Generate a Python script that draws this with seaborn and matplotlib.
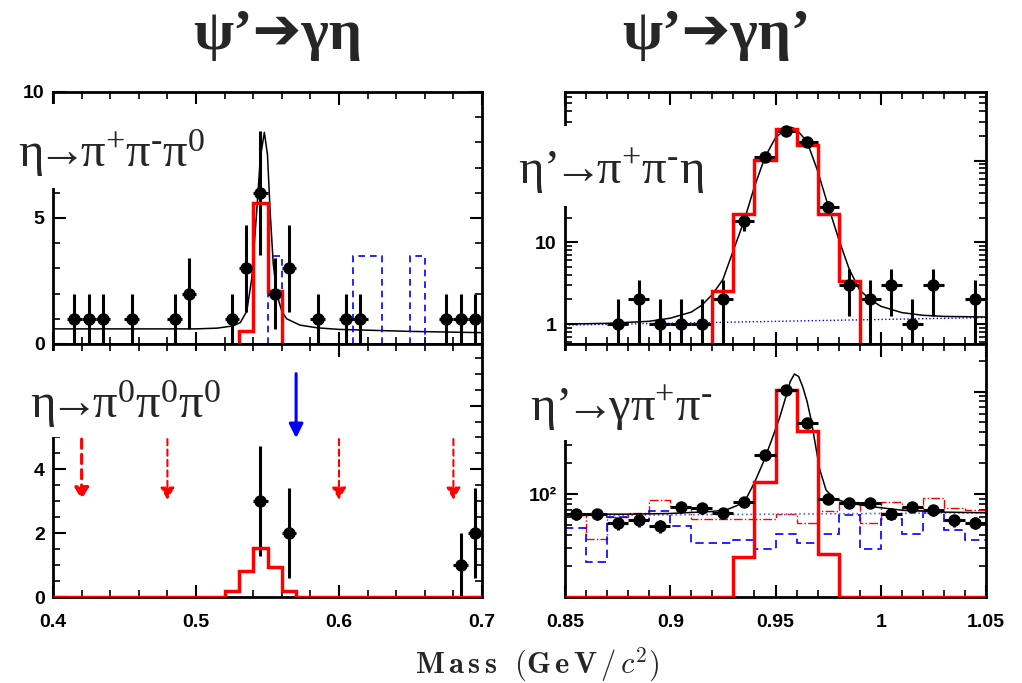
import matplotlib
matplotlib.use('Agg')
import matplotlib.pyplot as plt
from matplotlib.patches import Rectangle
from matplotlib.ticker import MultipleLocator, LogLocator, NullFormatter, FixedLocator
import seaborn as sns

# ---------------- data ----------------
# top-left: eta -> pi+ pi- pi0
tl_x = [0.415, 0.425, 0.435, 0.455, 0.485, 0.495, 0.525, 0.535, 0.545, 0.555, 0.565,
        0.585, 0.605, 0.615, 0.675, 0.685, 0.695]
tl_y = [1, 1, 1, 1, 1, 2, 1, 3, 6, 2, 3, 1, 1, 1, 1, 1, 1]
tl_err = [1, 1, 1, 1, 1, 1.41, 1, 1.73, 2.45, 1.41, 1.73, 1, 1, 1, 1, 1, 1]
tl_sig_edges = [0.53, 0.54, 0.55, 0.56]
tl_sig = [0.5, 5.6, 2.1]
tl_bkg_edges = [[0.55, 0.56], [0.61, 0.63], [0.65, 0.66]]
tl_bkg = [3.5, 3.5, 3.5]
tl_fit_x = [0.40, 0.45, 0.50, 0.515, 0.526, 0.531, 0.5355, 0.539, 0.5425, 0.545, 0.5478,
            0.550, 0.5518, 0.554, 0.5564, 0.560, 0.5634, 0.5727, 0.585, 0.60, 0.65, 0.70]
tl_fit_y = [0.6, 0.6, 0.6, 0.63, 0.72, 0.85, 1.3, 2.6, 5.3, 7.4, 8.4,
            7.5, 5.3, 3.2, 2.0, 1.3, 1.0, 0.75, 0.64, 0.58, 0.5, 0.45]

# bottom-left: eta -> pi0 pi0 pi0
bl_x = [0.545, 0.565, 0.685, 0.695]
bl_y = [3, 2, 1, 2]
bl_err = [1.73, 1.41, 1, 1.41]
bl_sig_edges = [0.40, 0.52, 0.53, 0.54, 0.55, 0.56, 0.57, 0.70]
bl_sig = [0, 0.2, 0.8, 1.55, 0.95, 0.18, 0]
bl_limit_x = [0.42, 0.48, 0.60, 0.68]
bl_limit_from, bl_limit_to = 4.95, 3.05
bl_blue_x, bl_blue_from, bl_blue_to = 0.57, 7.0, 4.98

# top-right: eta' -> pi+ pi- eta
tr_x = [0.875, 0.885, 0.895, 0.905, 0.915, 0.925, 0.935, 0.945, 0.955, 0.965, 0.975,
        0.985, 0.995, 1.005, 1.015, 1.025, 1.045]
tr_y = [1, 2, 1, 1, 1, 2, 18, 110, 233, 167, 27, 3, 2, 3, 1, 3, 2]
tr_err = [1, 1.41, 1, 1, 1, 1.41, 4.2, 10.5, 15.3, 12.9, 5.2, 1.73, 1.41, 1.73, 1, 1.73, 1.41]
tr_sig_edges = [0.92, 0.93, 0.94, 0.95, 0.96, 0.97, 0.98, 0.99]
tr_sig = [2.56, 22.4, 101, 244, 153, 22.4, 3.4]
tr_fit_x = [0.85, 0.87, 0.89, 0.90, 0.91, 0.915, 0.92, 0.925, 0.93, 0.935, 0.94, 0.945,
            0.95, 0.955, 0.9575, 0.96, 0.965, 0.97, 0.975, 0.98, 0.985, 0.99, 0.995,
            1.0, 1.01, 1.02, 1.03, 1.05]
tr_fit_y = [1.0, 1.02, 1.08, 1.18, 1.4, 1.7, 2.3, 3.5, 8, 18, 48, 110,
            190, 245, 255, 240, 170, 75, 28, 11, 4.7, 2.6, 2.0,
            1.65, 1.38, 1.28, 1.24, 1.22]
tr_bg_x = [0.85, 1.05]
tr_bg_y = [0.97, 1.2]

# bottom-right: eta' -> gamma pi+ pi-
br_x = [0.855, 0.865, 0.875, 0.885, 0.895, 0.905, 0.915, 0.925, 0.935, 0.945,
        0.955, 0.965, 0.975, 0.985, 0.995, 1.005, 1.015, 1.025, 1.035, 1.045]
br_y = [64, 64, 52, 56, 49, 76, 73, 65, 85, 239, 1031, 497, 90, 82, 82, 64, 76, 70, 56, 53]
br_err = [8, 8, 7.2, 7.5, 7, 8.7, 8.5, 8.1, 9.2, 15.5, 32, 22.3, 9.5, 9.1, 9.1, 8, 8.7, 8.4, 7.5, 7.3]
br_edges = [0.85, 0.86, 0.87, 0.88, 0.89, 0.90, 0.91, 0.92, 0.93, 0.94, 0.95,
            0.96, 0.97, 0.98, 0.99, 1.00, 1.01, 1.02, 1.03, 1.04, 1.05]
br_sig = [10, 10, 10, 10, 10, 10, 10, 10, 24.5, 133, 1031, 411, 26.4, 10, 10, 10, 10, 10, 10, 10]
br_mc1 = [63, 36.5, 60, 65, 88, 76, 57, 57, 57, 57, 64, 53, 68, 85, 52, 85, 70, 91, 73, 70]
br_mc2 = [47, 22, 60, 56, 68, 49, 33.6, 33.6, 36, 29, 41, 33.6, 41, 63, 29, 57, 41, 66, 45, 36]
br_fit_x = [0.85, 0.88, 0.90, 0.92, 0.927, 0.932, 0.936, 0.940, 0.944, 0.948, 0.952, 0.955,
            0.957, 0.959, 0.961, 0.963, 0.965, 0.967, 0.969, 0.971, 0.974, 0.978, 0.985,
            0.995, 1.01, 1.03, 1.05]
br_fit_y = [64, 64, 65, 68, 71, 78, 90, 130, 200, 330, 560, 900,
            1250, 1480, 1400, 1100, 800, 520, 300, 175, 110, 90, 82,
            76, 70, 67, 66]
br_bg_x = [0.85, 1.05]
br_bg_y = [62, 66]

titles = ['ψ’➔γη', 'ψ’➔γη’']
labels = [r'$\mathrm{η\!→\!π^{+}π^{\text{-}}π^{0}}$', r'$\mathrm{η\!→\!π^{0}π^{0}π^{0}}$',
          r'$\mathrm{η’\!→\!π^{+}π^{\text{-}}η}$', r'$\mathrm{η’\!→\!γπ^{+}π^{\text{-}}}$']
xlabel = r'$\mathbf{M\,a\,s\,s\ \ (G\,e\,V\,/}\,\mathit{c}^{\mathbf{2}}\mathbf{)}$'

# ---------------- style ----------------
sns.set_theme(style='ticks')
plt.rcParams.update({
    'font.family': ['Liberation Sans', 'DejaVu Sans'],
    'mathtext.fontset': 'custom',
    'mathtext.rm': 'Liberation Serif',
    'mathtext.it': 'Liberation Serif:italic',
    'mathtext.bf': 'Liberation Serif:bold',
    'axes.linewidth': 2.0,
    'axes.edgecolor': 'black',
    'xtick.direction': 'in', 'ytick.direction': 'in',
    'xtick.top': True, 'ytick.right': True,
    'xtick.major.size': 9, 'xtick.minor.size': 5,
    'ytick.major.size': 9, 'ytick.minor.size': 5,
    'xtick.major.width': 1.5, 'xtick.minor.width': 1.2,
    'ytick.major.width': 1.5, 'ytick.minor.width': 1.2,
    'xtick.color': 'black', 'ytick.color': 'black',
})

W, H = 1022, 683
fig = plt.figure(figsize=(W / 100, H / 100), dpi=100)


def fx(px):
    return px / W


def fy(py):
    return 1 - py / H


def add_axes(x0, x1, y0, y1):
    return fig.add_axes([fx(x0), fy(y1), fx(x1) - fx(x0), (y1 - y0) / H])


ax_tl = add_axes(53, 482, 92, 344)
ax_bl = add_axes(53, 482, 344, 597)
ax_tr = add_axes(565, 986, 92, 344)
ax_br = add_axes(565, 986, 344, 597)

tick_font = dict(fontsize=14, fontweight='bold', family=['Liberation Sans', 'DejaVu Sans'])


def points(ax, x, y, err):
    ax.errorbar(x, y, yerr=err, xerr=0.005, fmt='none', ecolor='black',
                elinewidth=2.2, capsize=0, zorder=4)
    sns.scatterplot(x=x, y=y, ax=ax, color='black', s=80, edgecolor='black',
                    linewidth=0, zorder=5, legend=False)


def fitline(ax, x, y, **kw):
    sns.lineplot(x=x, y=y, ax=ax, color='black', lw=1.1, sort=False,
                 estimator=None, zorder=3, legend=False, **kw)


# ---- top-left ----
ax = ax_tl
points(ax, tl_x, tl_y, tl_err)
fitline(ax, tl_fit_x, tl_fit_y)
ax.stairs(tl_sig, tl_sig_edges, baseline=0, color='red', lw=2.5, zorder=4)
for v, e in zip(tl_bkg, tl_bkg_edges):
    ax.stairs([v], e, baseline=0, color='blue', lw=1.2, ls=(0, (4, 3)), zorder=3)
ax.set_xlim(0.4, 0.7)
ax.set_ylim(0, 10.0)
ax.xaxis.set_major_locator(FixedLocator([0.4, 0.5, 0.6, 0.7]))
ax.xaxis.set_minor_locator(MultipleLocator(0.02))
ax.set_xticklabels([])
ax.yaxis.set_major_locator(FixedLocator([0, 5, 10]))
ax.yaxis.set_minor_locator(MultipleLocator(1))
ax.set_yticklabels(['0', '5', '10'], **tick_font)

# ---- bottom-left ----
ax = ax_bl
points(ax, bl_x, bl_y, bl_err)
ax.stairs(bl_sig, bl_sig_edges, baseline=0, color='red', lw=2.5, zorder=4)
for i, xv in enumerate(bl_limit_x):
    ax.annotate('', xy=(xv, bl_limit_to), xytext=(xv, bl_limit_from),
                arrowprops=dict(arrowstyle='-|>,head_width=0.35,head_length=0.6',
                                color='red', lw=2.2 if i == 0 else 1.5,
                                linestyle=(0, (3, 2)), shrinkA=0, shrinkB=0))
ax.annotate('', xy=(bl_blue_x, bl_blue_to), xytext=(bl_blue_x, bl_blue_from),
            arrowprops=dict(arrowstyle='-|>,head_width=0.35,head_length=0.7',
                            color='blue', lw=2.2, shrinkA=0, shrinkB=0))
ax.set_xlim(0.4, 0.7)
ax.set_ylim(0, 7.93)
ax.xaxis.set_major_locator(FixedLocator([0.4, 0.5, 0.6, 0.7]))
ax.xaxis.set_minor_locator(MultipleLocator(0.02))
ax.set_xticklabels(['0.4', '0.5', '0.6', '0.7'], **tick_font)
ax.yaxis.set_major_locator(FixedLocator([0, 2, 4, 6]))
ax.yaxis.set_minor_locator(MultipleLocator(0.5))
ax.set_yticklabels(['0', '2', '4', ''], **tick_font)

# ---- top-right ----
ax = ax_tr
ax.set_yscale('log')
points(ax, tr_x, tr_y, tr_err)
fitline(ax, tr_fit_x, tr_fit_y)
sns.lineplot(x=tr_bg_x, y=tr_bg_y, ax=ax, color='blue', lw=1.0, ls=':', zorder=2, legend=False)
ax.stairs(tr_sig, tr_sig_edges, baseline=1e-3, color='red', lw=2.5, zorder=4)
ax.set_xlim(0.85, 1.05)
ax.set_ylim(0.57, 690)
ax.xaxis.set_major_locator(FixedLocator([0.85, 0.9, 0.95, 1.0, 1.05]))
ax.xaxis.set_minor_locator(MultipleLocator(0.01))
ax.set_xticklabels([])
ax.yaxis.set_major_locator(FixedLocator([1, 10, 100]))
ax.yaxis.set_minor_locator(LogLocator(base=10, subs=range(2, 10)))
ax.yaxis.set_minor_formatter(NullFormatter())
ax.set_yticklabels(['1', '10', ''], **tick_font)

# ---- bottom-right ----
ax = ax_br
ax.set_yscale('log')
ax.stairs(br_mc1, br_edges, baseline=None, color='red', lw=1.0, ls='-.', zorder=2)
ax.stairs(br_mc2, br_edges, baseline=None, color='blue', lw=1.2, ls=(0, (5, 3)), zorder=2)
sns.lineplot(x=br_bg_x, y=br_bg_y, ax=ax, color='#5566ff', lw=1.2, ls=':', zorder=2, legend=False)
fitline(ax, br_fit_x, br_fit_y)
ax.stairs(br_sig, br_edges, baseline=None, color='red', lw=2.5, zorder=4)
points(ax, br_x, br_y, br_err)
ax.set_xlim(0.85, 1.05)
ax.set_ylim(10, 2900)
ax.xaxis.set_major_locator(FixedLocator([0.85, 0.9, 0.95, 1.0, 1.05]))
ax.xaxis.set_minor_locator(MultipleLocator(0.01))
ax.set_xticklabels(['0.85', '0.9', '0.95', '1', '1.05'], **tick_font)
ax.yaxis.set_major_locator(FixedLocator([100, 1000]))
ax.yaxis.set_minor_locator(LogLocator(base=10, subs=range(2, 10)))
ax.yaxis.set_minor_formatter(NullFormatter())
ax.set_yticklabels(['10²', ''], **tick_font)

for ax in (ax_tl, ax_bl, ax_tr, ax_br):
    ax.tick_params(axis='x', which='both', pad=12)
    ax.tick_params(axis='y', which='both', pad=6)
    for s in ax.spines.values():
        s.set_linewidth(2.0)
        s.set_color('black')

# ---- white label boxes + labels ----
boxes = [(0, 104, 225, 188), (0, 351, 240, 437), (495, 126, 715, 206), (495, 351, 715, 440)]
for (x0, y0, x1, y1) in boxes:
    fig.add_artist(Rectangle((fx(x0), fy(y1)), fx(x1) - fx(x0), (y1 - y0) / H,
                             transform=fig.transFigure, facecolor='white',
                             edgecolor='none', zorder=5))

label_pos = [(18, 167), (30, 418), (518, 184), (530, 421)]
for (px, py), txt in zip(label_pos, labels):
    fig.text(fx(px), fy(py), txt, fontsize=35, ha='left', va='baseline', zorder=6)

# ---- titles and axis label ----
title_font = dict(fontsize=42, fontweight='bold', family=['Liberation Serif', 'DejaVu Sans'])
fig.text(fx(278), fy(49), titles[0], ha='center', va='baseline', **title_font)
fig.text(fx(716), fy(49), titles[1], ha='center', va='baseline', **title_font)
fig.text(fx(537), fy(673), xlabel, math_fontfamily='cm', fontsize=22, ha='center', va='baseline')

fig.savefig('out.png', dpi=100)
